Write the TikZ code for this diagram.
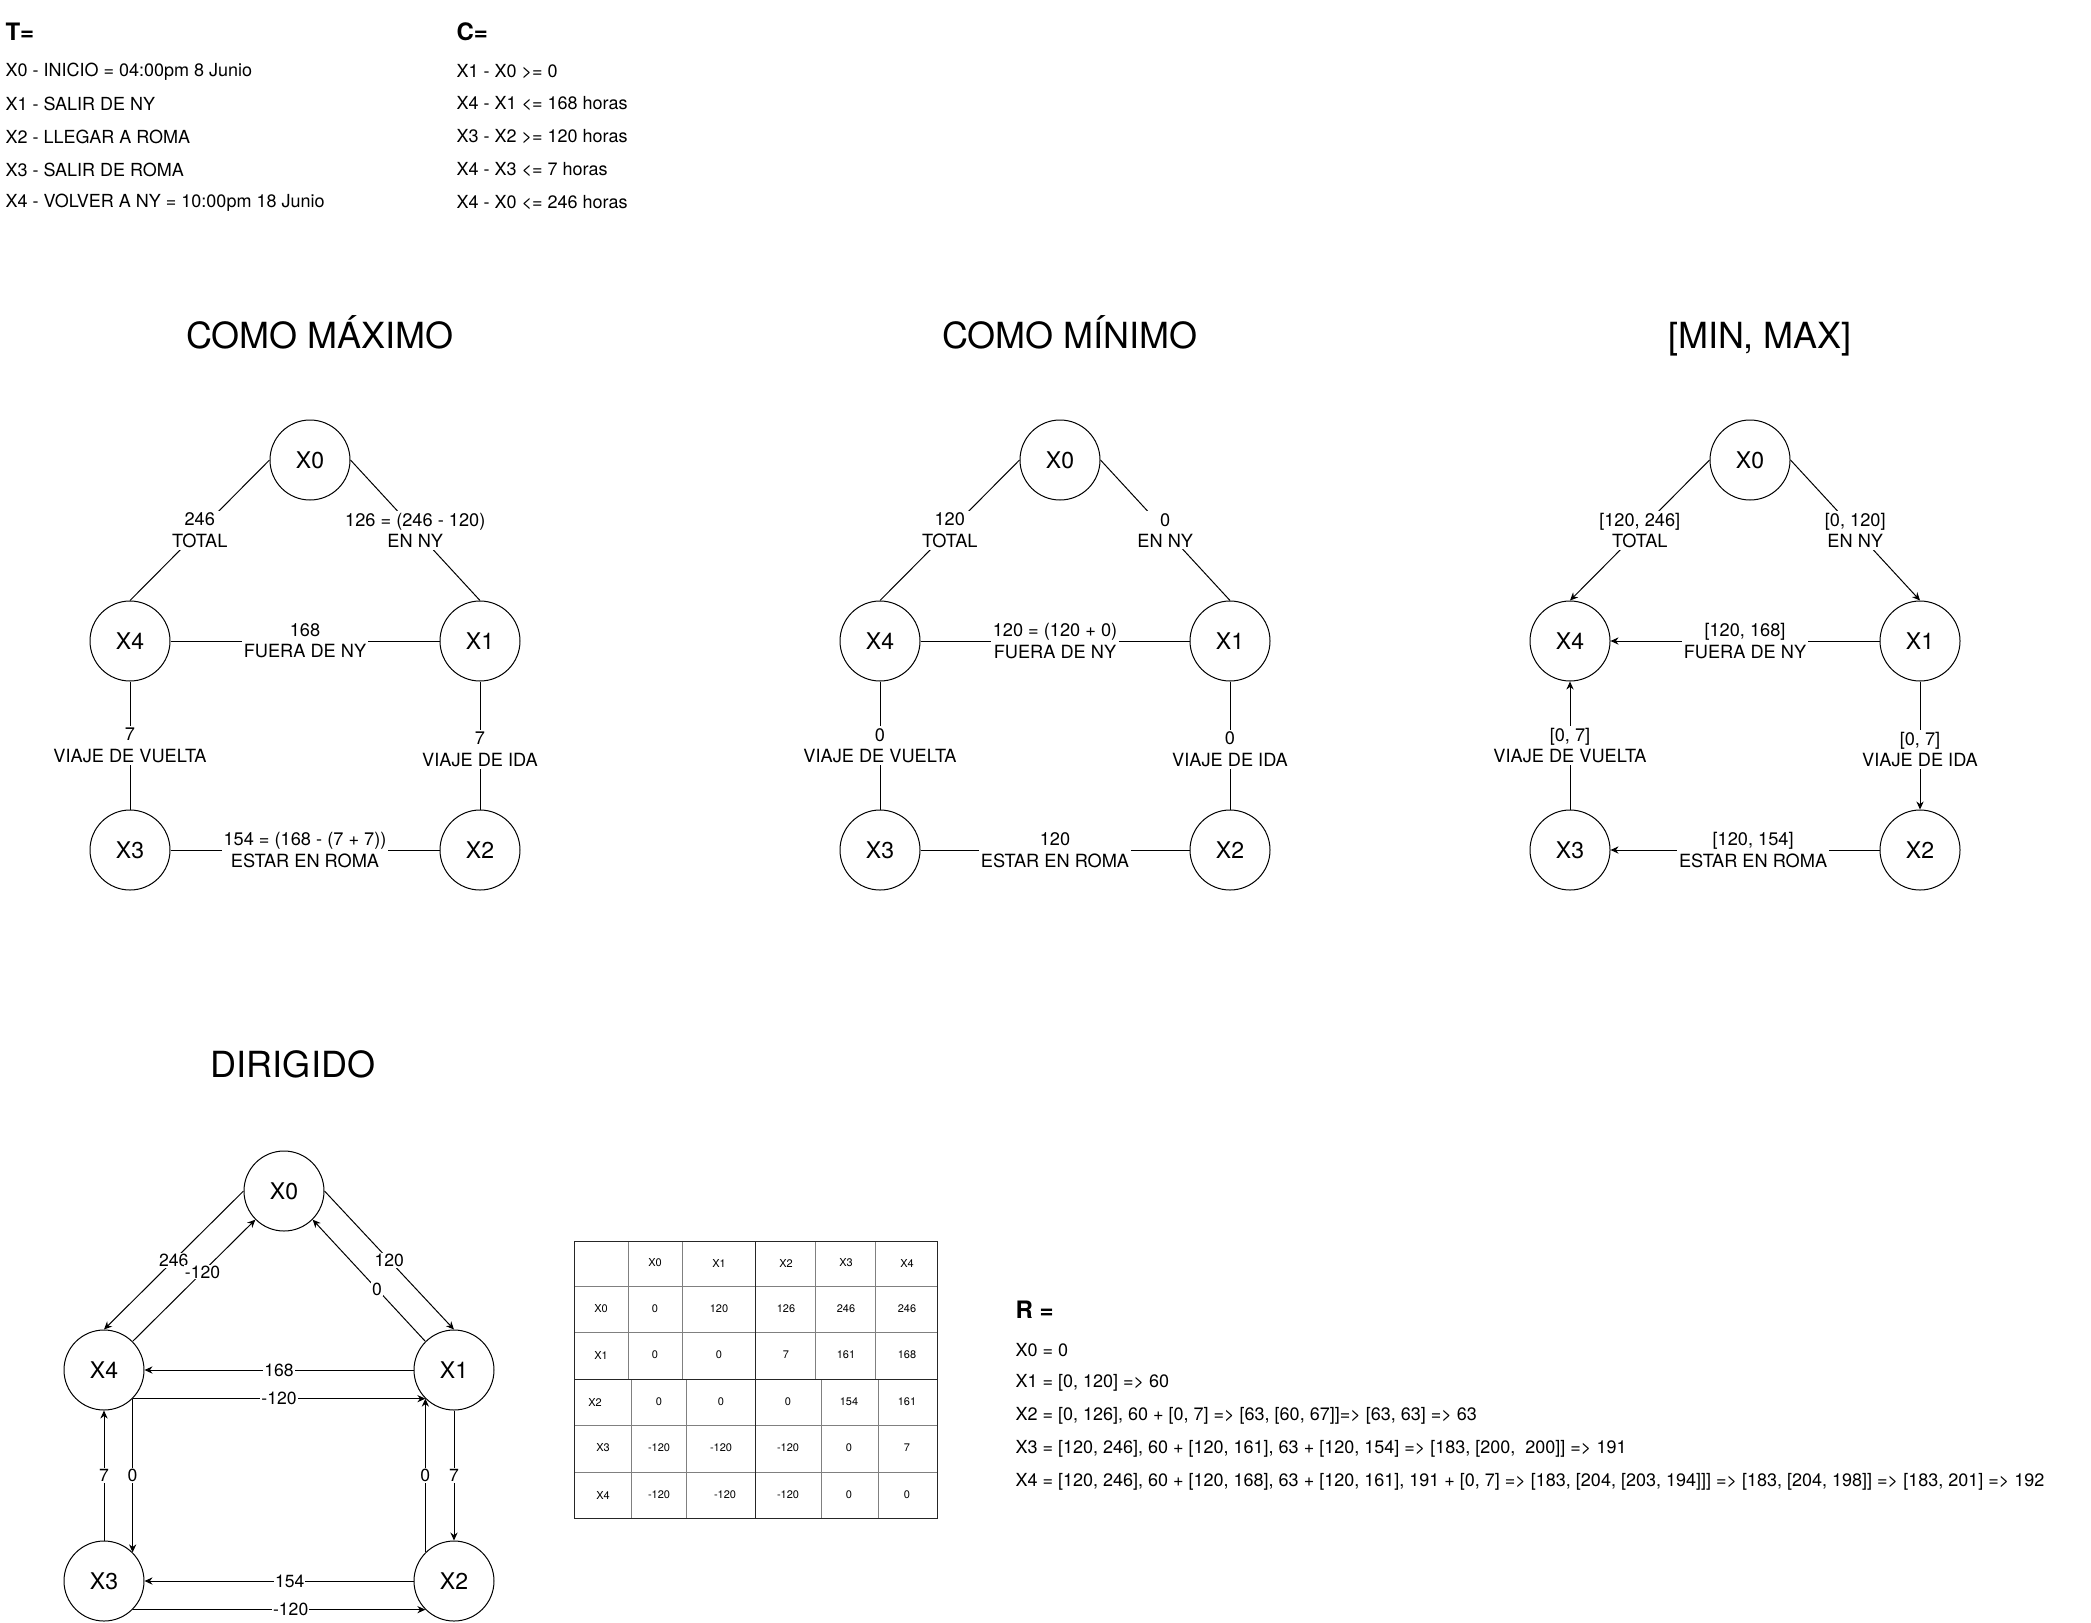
\documentclass[tikz,border=0pt]{standalone}
\usepackage{fontspec}
\setmainfont{TeX Gyre Heros}
\usetikzlibrary{arrows.meta}

\tikzstyle{state} = [circle, draw = black, minimum size = 40pt, inner sep = 0pt,
	font = \fontsize{11.5}{13}\selectfont]
\tikzstyle{elabel} = [fill = white, inner sep = 1pt, align = center,
	font = \fontsize{9.1}{10.7}\selectfont]
\tikzstyle{dlabel} = [fill = white, inner sep = 0.5pt, font = \fontsize{8.8}{10}\selectfont]
\tikzstyle{arrow} = [-{Stealth[length = 4pt, width = 3.6pt]}]
\tikzstyle{title} = [anchor = base, font = \fontsize{18}{21}\selectfont]
\tikzstyle{head} = [anchor = west, inner sep = 0pt, font = \fontsize{12}{14}\selectfont\bfseries]
\tikzstyle{txt} = [anchor = west, inner sep = 0pt, font = \fontsize{9}{11}\selectfont]
\tikzstyle{cell} = [inner sep = 0pt, font = \fontsize{5.5}{6.5}\selectfont]

\begin{document}
\begin{tikzpicture}[x = 0.5pt, y = -0.5pt, line width = 0.5pt]

\useasboundingbox (0,0) rectangle (2091,1622);

% T= y C=
\node (T) [head] at (5,32) {T=};
\node (T0) [txt] at (5,72) {X0 - INICIO = 04:00pm 8 Junio};
\node (T1) [txt] at (5,104) {X1 - SALIR DE NY};
\node (T2) [txt] at (5,137) {X2 - LLEGAR A ROMA};
\node (T3) [txt] at (5,170) {X3 - SALIR DE ROMA};
\node (T4) [txt] at (5,203) {X4 - VOLVER A NY = 10:00pm 18 Junio};

\node (C) [head] at (456,32) {C=};
\node (C0) [txt] at (456,72) {X1 - X0 >= 0};
\node (C1) [txt] at (456,104) {X4 - X1 <= 168 horas};
\node (C2) [txt] at (456,137) {X3 - X2 >= 120 horas};
\node (C3) [txt] at (456,170) {X4 - X3 <= 7 horas};
\node (C4) [txt] at (456,203) {X4 - X0 <= 246 horas};

% COMO MAXIMO
\node (MAXt) [title] at (320,348) {COMO MÁXIMO};
\node (MAX0) [state] at (310,460) {X0};
\node (MAX4) [state] at (130,641) {X4};
\node (MAX1) [state] at (480,641) {X1};
\node (MAX3) [state] at (130,850) {X3};
\node (MAX2) [state] at (480,850) {X2};

\draw (MAX0.west) -- node [elabel] {246\\TOTAL} (MAX4.north);
\draw (MAX0.east) -- node [elabel] {126 = (246 - 120)\\EN NY} (MAX1.north);
\draw (MAX4.east) -- node [elabel] {168\\FUERA DE NY} (MAX1.west);
\draw (MAX4.south) -- node [elabel] {7\\VIAJE DE VUELTA} (MAX3.north);
\draw (MAX1.south) -- node [elabel, pos = 0.53] {7\\VIAJE DE IDA} (MAX2.north);
\draw (MAX3.east) -- node [elabel] {154 = (168 - (7 + 7))\\ESTAR EN ROMA} (MAX2.west);

% COMO MINIMO
\node (MINt) [title] at (1070,348) {COMO MÍNIMO};
\node (MIN0) [state] at (1060,460) {X0};
\node (MIN4) [state] at (880,641) {X4};
\node (MIN1) [state] at (1230,641) {X1};
\node (MIN3) [state] at (880,850) {X3};
\node (MIN2) [state] at (1230,850) {X2};

\draw (MIN0.west) -- node [elabel] {120\\TOTAL} (MIN4.north);
\draw (MIN0.east) -- node [elabel] {0\\EN NY} (MIN1.north);
\draw (MIN4.east) -- node [elabel] {120 = (120 + 0)\\FUERA DE NY} (MIN1.west);
\draw (MIN4.south) -- node [elabel] {0\\VIAJE DE VUELTA} (MIN3.north);
\draw (MIN1.south) -- node [elabel, pos = 0.53] {0\\VIAJE DE IDA} (MIN2.north);
\draw (MIN3.east) -- node [elabel] {120\\ESTAR EN ROMA} (MIN2.west);

% [MIN, MAX]
\node (MMt) [title] at (1760,348) {[MIN, MAX]};
\node (MM0) [state] at (1750,460) {X0};
\node (MM4) [state] at (1570,641) {X4};
\node (MM1) [state] at (1920,641) {X1};
\node (MM3) [state] at (1570,850) {X3};
\node (MM2) [state] at (1920,850) {X2};

\draw [arrow] (MM0.west) -- node [elabel] {[120, 246]\\TOTAL} (MM4.north);
\draw [arrow] (MM0.east) -- node [elabel] {[0, 120]\\EN NY} (MM1.north);
\draw [arrow] (MM1.west) -- node [elabel] {[120, 168]\\FUERA DE NY} (MM4.east);
\draw [arrow] (MM3.north) -- node [elabel] {[0, 7]\\VIAJE DE VUELTA} (MM4.south);
\draw [arrow] (MM1.south) -- node [elabel, pos = 0.53] {[0, 7]\\VIAJE DE IDA} (MM2.north);
\draw [arrow] (MM2.west) -- node [elabel, pos = 0.47] {[120, 154]\\ESTAR EN ROMA} (MM3.east);

% DIRIGIDO
\node (Dt) [title] at (293,1077) {DIRIGIDO};
\node (D0) [state] at (284,1191) {X0};
\node (D4) [state] at (104,1370) {X4};
\node (D1) [state] at (454,1370) {X1};
\node (D3) [state] at (104,1581) {X3};
\node (D2) [state] at (454,1581) {X2};

\draw [arrow] (D0.west) -- node [dlabel] {246} (D4.north);
\draw [arrow] (D4.45) -- node [dlabel, pos = 0.57] {-120} (D0.-135);
\draw [arrow] (D0.east) -- node [dlabel] {120} (D1.north);
\draw [arrow] (D1.135) -- node [dlabel, pos = 0.43] {0} (D0.-45);
\draw [arrow] (D1.west) -- node [dlabel] {168} (D4.east);
\draw [arrow] (D4.-45) -- node [dlabel] {-120} (D1.-135);
\draw [arrow] (D3.north) -- node [dlabel] {7} (D4.south);
\draw [arrow] (D4.-45) -- node [dlabel] {0} (D3.45);
\draw [arrow] (D2.135) -- node [dlabel] {0} (D1.-135);
\draw [arrow] (D1.south) -- node [dlabel] {7} (D2.north);
\draw [arrow] (D2.west) -- node [dlabel, pos = 0.46] {154} (D3.east);
\draw [arrow] (D3.-45) -- node [dlabel, pos = 0.54] {-120} (D2.-135);

% tabla
\draw [gray] (628,1241) -- (628,1379) (682,1241) -- (682,1379)
	(815,1241) -- (815,1379) (875,1241) -- (875,1379)
	(631,1379) -- (631,1518) (686,1379) -- (686,1518)
	(821,1379) -- (821,1518) (878,1379) -- (878,1518)
	(574,1286) -- (937,1286) (574,1332) -- (937,1332)
	(574,1425) -- (937,1425) (574,1472) -- (937,1472);
\draw [black!85] (574,1241) rectangle (937,1518)
	(755,1241) -- (755,1518) (574,1379) -- (937,1379);

\node (h1) [cell] at (655,1263) {X0};
\node (h2) [cell] at (719,1263) {X1};
\node (h3) [cell] at (786,1263) {X2};
\node (h4) [cell] at (846,1263) {X3};
\node (h5) [cell] at (907,1263) {X4};

\node (r0) [cell] at (601,1309) {X0};
\node (r01) [cell] at (655,1309) {0};
\node (r02) [cell] at (719,1309) {120};
\node (r03) [cell] at (786,1309) {126};
\node (r04) [cell] at (846,1309) {246};
\node (r05) [cell] at (907,1309) {246};

\node (r1) [cell] at (601,1355) {X1};
\node (r11) [cell] at (655,1355) {0};
\node (r12) [cell] at (719,1355) {0};
\node (r13) [cell] at (786,1355) {7};
\node (r14) [cell] at (846,1355) {161};
\node (r15) [cell] at (907,1355) {168};

\node (r2) [cell] at (595,1402) {X2};
\node (r21) [cell] at (659,1402) {0};
\node (r22) [cell] at (721,1402) {0};
\node (r23) [cell] at (788,1402) {0};
\node (r24) [cell] at (849,1402) {154};
\node (r25) [cell] at (907,1402) {161};

\node (r3) [cell] at (603,1448) {X3};
\node (r31) [cell] at (659,1448) {-120};
\node (r32) [cell] at (721,1448) {-120};
\node (r33) [cell] at (788,1448) {-120};
\node (r34) [cell] at (849,1448) {0};
\node (r35) [cell] at (907,1448) {7};

\node (r4) [cell] at (603,1495) {X4};
\node (r41) [cell] at (659,1495) {-120};
\node (r42) [cell] at (725,1495) {-120};
\node (r43) [cell] at (788,1495) {-120};
\node (r44) [cell] at (849,1495) {0};
\node (r45) [cell] at (907,1495) {0};

% R =
\node (R) [head] at (1015,1310) {R =};
\node (R0) [txt] at (1015,1350) {X0 = 0};
\node (R1) [txt] at (1015,1383) {X1 = [0, 120] => 60};
\node (R2) [txt] at (1015,1416) {X2 = [0, 126], 60 + [0, 7] => [63, [60, 67]]=> [63, 63] => 63};
\node (R3) [txt] at (1015,1449) {X3 = [120, 246], 60 + [120, 161], 63 + [120, 154] => [183, [200,\ \ 200]] => 191};
\node (R4) [txt] at (1015,1482) {X4 = [120, 246], 60 + [120, 168], 63 + [120, 161], 191 + [0, 7] => [183, [204, [203, 194]]] => [183, [204, 198]] => [183, 201] => 192};

\end{tikzpicture}
\end{document}
